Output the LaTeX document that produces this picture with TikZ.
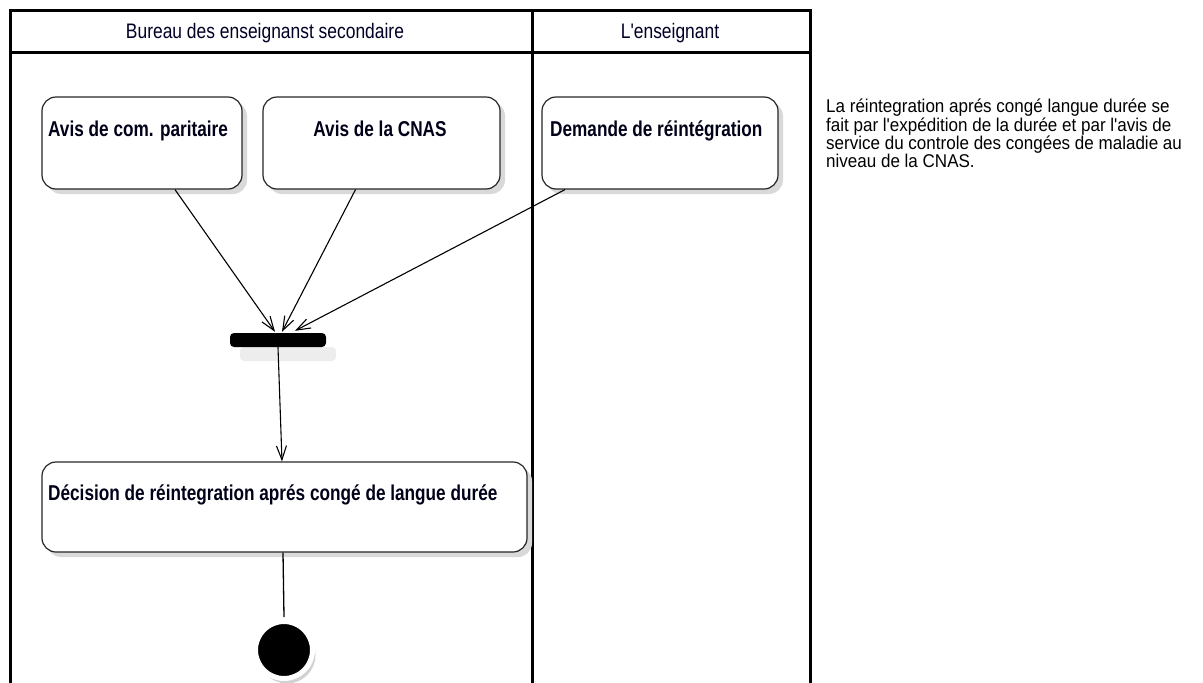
\documentclass[tikz,border=0pt]{standalone}
\usepackage{fontspec}
\newfontfamily\nf{Liberation Sans}
\usepackage{graphicx}
\usetikzlibrary{arrows.meta,shadows}
\newcommand{\nt}[2]{\scalebox{#1}[1]{#2}}
\begin{document}
\begin{tikzpicture}[x=1pt,y=-1pt,
  frame/.style={line width=3pt},
  act/.style={draw=black!85, line width=1.2pt, rounded corners=14pt, fill=white, inner sep=0pt,
    drop shadow={fill=black!15, opacity=1, shadow xshift=5pt, shadow yshift=-5pt}},
  acttext/.style={inner sep=0pt, font=\nf\fontsize{21.5}{24}\selectfont\bfseries, text=black!90!blue},
  lanetext/.style={inner sep=0pt, font=\nf\fontsize{21}{23}\selectfont, text=black!85!blue},
  notetext/.style={inner sep=0pt, font=\nf\fontsize{18.5}{17}\selectfont, text=black, align=left},
  flow/.style={line width=1.1pt, -{Straight Barb[length=14pt,width=10pt,line width=1.1pt]}},
  plain/.style={line width=1.3pt}
]
\useasboundingbox (0,0) rectangle (1203,683);

% swimlane frame
\coordinate (tl) at (10,10);
\coordinate (tr) at (810,10);
\coordinate (bl) at (10,690);
\coordinate (br) at (810,690);
\coordinate (hl) at (10,52);
\coordinate (hr) at (810,52);
\coordinate (dt) at (532,10);
\coordinate (db) at (532,690);
\draw[frame] (bl) -- (tl) -- (tr) -- (br);
\draw[frame] (hl) -- (hr);
\draw[frame] (dt) -- (db);

\node[lanetext, anchor=base] (lane1) at (265,38) {\nt{0.83}{Bureau des enseignanst secondaire}};
\node[lanetext, anchor=base] (lane2) at (670,38) {\nt{0.83}{L'enseignant}};

% activities
\node[act, minimum width=200, minimum height=92] (a1) at (142,143) {};
\node[act, minimum width=237, minimum height=92] (a2) at (381.5,143) {};
\node[act, minimum width=236, minimum height=92] (a3) at (660,143) {};
\node[act, minimum width=485, minimum height=90] (dec) at (284.5,507) {};

\node[acttext, anchor=base west] (t1) at (48,136) {\nt{0.80}{Avis de com. paritaire}};
\node[acttext, anchor=base] (t2) at (380,136) {\nt{0.80}{Avis de la CNAS}};
\node[acttext, anchor=base west] (t3) at (550,136) {\nt{0.80}{Demande de réintégration}};
\node[acttext, anchor=base west] (t4) at (48,500) {\nt{0.80}{Décision de réintegration aprés congé de langue durée}};

% fork bar
\node[fill=black, rounded corners=4pt, minimum width=96, minimum height=14, inner sep=0pt,
  drop shadow={fill=black!7, opacity=1, shadow xshift=10pt, shadow yshift=-14pt}] (bar) at (278,340) {};

% final node
\node[circle, fill=black, draw=white, line width=5pt, minimum size=57, inner sep=0pt,
  drop shadow={fill=black!18, opacity=1, shadow xshift=3pt, shadow yshift=-5pt}] (fin) at (284,650) {};

% connectors
\draw[flow] ([xshift=33pt]a1.south) -- ([xshift=-3pt,yshift=1pt]bar.north);
\draw[flow] ([xshift=-26pt]a2.south) -- ([xshift=4pt,yshift=1pt]bar.north);
\draw[flow] ([xshift=-95pt]a3.south) -- ([xshift=17pt,yshift=2pt]bar.north);
\draw[flow] (bar.south) -- ([xshift=-2.5pt]dec.north);
\draw[plain] ([xshift=-1.5pt]dec.south) -- ([yshift=2pt]fin.north);

% note
\node[notetext, anchor=north west] (note) at (826,99) {\nt{0.92}{La réintegration aprés congé langue durée se}\\
\nt{0.92}{fait par l'expédition de la durée et par l'avis de}\\
\nt{0.92}{service du controle des congées de maladie au}\\
\nt{0.92}{niveau de la CNAS.}};
\end{tikzpicture}
\end{document}
